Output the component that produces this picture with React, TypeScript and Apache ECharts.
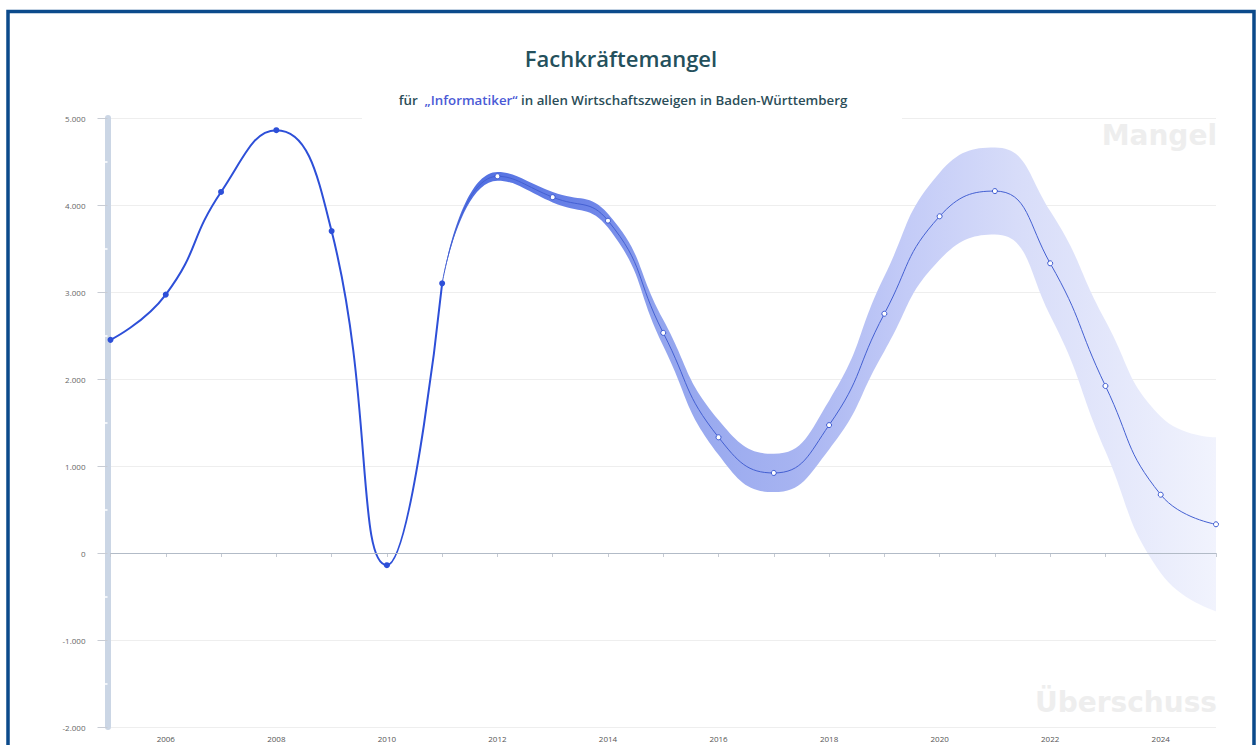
import React, { useEffect, useRef } from "react";
import * as echarts from "echarts";

const years = [
  "2005", "2006", "2007", "2008", "2009", "2010", "2011", "2012", "2013", "2014",
  "2015", "2016", "2017", "2018", "2019", "2020", "2021", "2022", "2023", "2024", "2025",
];
// Ist-Werte 2005–2011
const actualValues = [2450, 2970, 4150, 4860, 3700, -140, 3100];
// Prognose 2011–2025
const forecastStartIndex = 6;
const forecastValues = [3100, 4330, 4090, 3820, 2530, 1330, 920, 1470, 2750, 3870, 4160, 3330, 1920, 670, 330];
const bandHalfWidth = [0, 50, 60, 80, 150, 200, 220, 280, 430, 500, 500, 600, 750, 900, 1000];

const yMin = -2000;
const yMax = 5000;
const yInterval = 1000;

const titleText = "Fachkräftemangel";
const subtitlePre = "für  ";
const subtitleHighlight = "„Informatiker“";
const subtitlePost = " in allen Wirtschaftszweigen in Baden-Württemberg";
const labelTop = "Mangel";
const labelBottom = "Überschuss";

export default function App() {
  const ref = useRef<HTMLDivElement>(null);

  useEffect(() => {
    if (!ref.current) return;
    const chart = echarts.init(ref.current, null, { renderer: "svg" });

    const pad = (arr: any[], start: number) =>
      years.map((_, i) => (i >= start && i - start < arr.length ? arr[i - start] : "-"));

    const actualData = pad(actualValues, 0);
    const forecastData = years.map((_, i) => {
      const k = i - forecastStartIndex;
      if (k < 0 || k >= forecastValues.length) return "-";
      return k === 0 ? { value: forecastValues[k], symbol: "none" } : forecastValues[k];
    });
    const lowerData = pad(
      forecastValues.map((v, k) => v - bandHalfWidth[k]),
      forecastStartIndex
    );
    const widthData = pad(
      bandHalfWidth.map((h) => 2 * h),
      forecastStartIndex
    );

    const font = "Open Sans";

    const option: any = {
      animation: false,
      backgroundColor: "#ffffff",
      grid: { left: 110.5, right: 44, top: 118, bottom: 18, outerBoundsMode: "none" },
      xAxis: {
        type: "category",
        data: years,
        boundaryGap: false,
        axisLine: { show: true, lineStyle: { color: "#c5cad3", width: 1 } },
        axisTick: { show: true, interval: 0, length: 4, lineStyle: { color: "#c5cad3" } },
        axisLabel: {
          interval: 0,
          formatter: (v: string) => (Number(v) % 2 === 0 ? v : ""),
          fontSize: 8,
          color: "#555",
          margin: 7,
          fontFamily: font,
        },
        splitLine: { show: false },
      },
      yAxis: {
        type: "value",
        min: yMin,
        max: yMax,
        interval: yInterval,
        offset: 3,
        axisLine: { show: true, lineStyle: { color: "#cbd6e5", width: 6 } },
        axisTick: { show: true, length: 10, lineStyle: { color: "#c8ccd4" } },
        minorTick: { show: true, splitNumber: 2, length: 4, lineStyle: { color: "#ffffff", width: 1.5 } },
        axisLabel: {
          formatter: (v: number) => v.toLocaleString("de-DE"),
          fontSize: 8,
          color: "#666",
          margin: 22,
          fontFamily: font,
        },
        splitLine: { show: true, lineStyle: { color: "#eeeeee", width: 1 } },
      },
      series: [
        {
          name: "lower",
          type: "line",
          data: lowerData,
          stack: "band",
          stackStrategy: "all",
          smooth: true,
          symbol: "none",
          lineStyle: { opacity: 0 },
          silent: true,
          z: 1,
        },
        {
          name: "band",
          type: "line",
          data: widthData,
          stack: "band",
          stackStrategy: "all",
          smooth: true,
          symbol: "none",
          lineStyle: { opacity: 0 },
          silent: true,
          z: 1,
          areaStyle: {
            opacity: 1,
            color: new echarts.graphic.LinearGradient(0, 0, 1, 0, [
              { offset: 0, color: "#4a6ae0" },
              { offset: 0.2, color: "#6f86e8" },
              { offset: 0.28, color: "#93a5ee" },
              { offset: 0.45, color: "#a6b3f1" },
              { offset: 0.6, color: "#c3cbf7" },
              { offset: 0.75, color: "#d8ddf9" },
              { offset: 1, color: "#f1f3fd" },
            ]),
          },
        },
        {
          name: "Prognose",
          type: "line",
          data: forecastData,
          smooth: true,
          symbol: "circle",
          symbolSize: 5,
          showSymbol: true,
          itemStyle: { color: "#ffffff", borderColor: "#3a58d0", borderWidth: 1 },
          lineStyle: { color: "#4460d2", width: 1 },
          z: 3,
        },
        {
          name: "Ist",
          type: "line",
          data: actualData,
          smooth: true,
          symbol: "circle",
          symbolSize: 6,
          itemStyle: { color: "#2d4fd8" },
          lineStyle: { color: "#2d4fd8", width: 2 },
          z: 4,
          markLine: {
            silent: true,
            symbol: "none",
            label: { show: false },
            lineStyle: { color: "#b2bbc7", width: 1, type: "solid" },
            data: [{ yAxis: 0 }],
          },
        },
      ],
      graphic: [
        {
          type: "rect",
          z: 50,
          silent: true,
          shape: { x: 362, y: 80, width: 540, height: 42 },
          style: { fill: "#ffffff" },
        },
        {
          type: "text",
          z: 60,
          x: 621,
          y: 58,
          style: {
            text: titleText,
            fill: "#24505c",
            font: `600 22px "${font}"`,
            align: "center",
            verticalAlign: "middle",
          },
        },
        {
          type: "text",
          z: 60,
          x: 623,
          y: 100,
          style: {
            text: `{a|${subtitlePre}}{b|${subtitleHighlight}}{a|${subtitlePost}}`,
            align: "center",
            verticalAlign: "middle",
            rich: {
              a: { fill: "#2b4d58", fontFamily: font, fontWeight: 600, fontSize: 13.3 },
              b: { fill: "#4a5ad6", fontFamily: font, fontWeight: 600, fontSize: 13.3 },
            },
          },
        },
        {
          type: "text",
          z: 0,
          x: 1217,
          y: 135,
          style: {
            text: labelTop,
            fill: "#eeeeee",
            font: `bold 28px "DejaVu Sans"`,
            align: "right",
            verticalAlign: "middle",
          },
        },
        {
          type: "text",
          z: 0,
          x: 1217,
          y: 702,
          style: {
            text: labelBottom,
            fill: "#eeeeee",
            font: `bold 28px "DejaVu Sans"`,
            align: "right",
            verticalAlign: "middle",
          },
        },
        {
          type: "rect",
          z: 100,
          silent: true,
          shape: { x: 8, y: 11.5, width: 1246, height: 800 },
          style: { fill: "none", stroke: "#0b4a8b", lineWidth: 3.5 },
        },
      ],
    };

    chart.setOption(option);
    return () => chart.dispose();
  }, []);

  return (
    <div
      ref={ref}
      style={{ position: "fixed", left: 0, top: 0, width: 1260, height: 745 }}
    />
  );
}
